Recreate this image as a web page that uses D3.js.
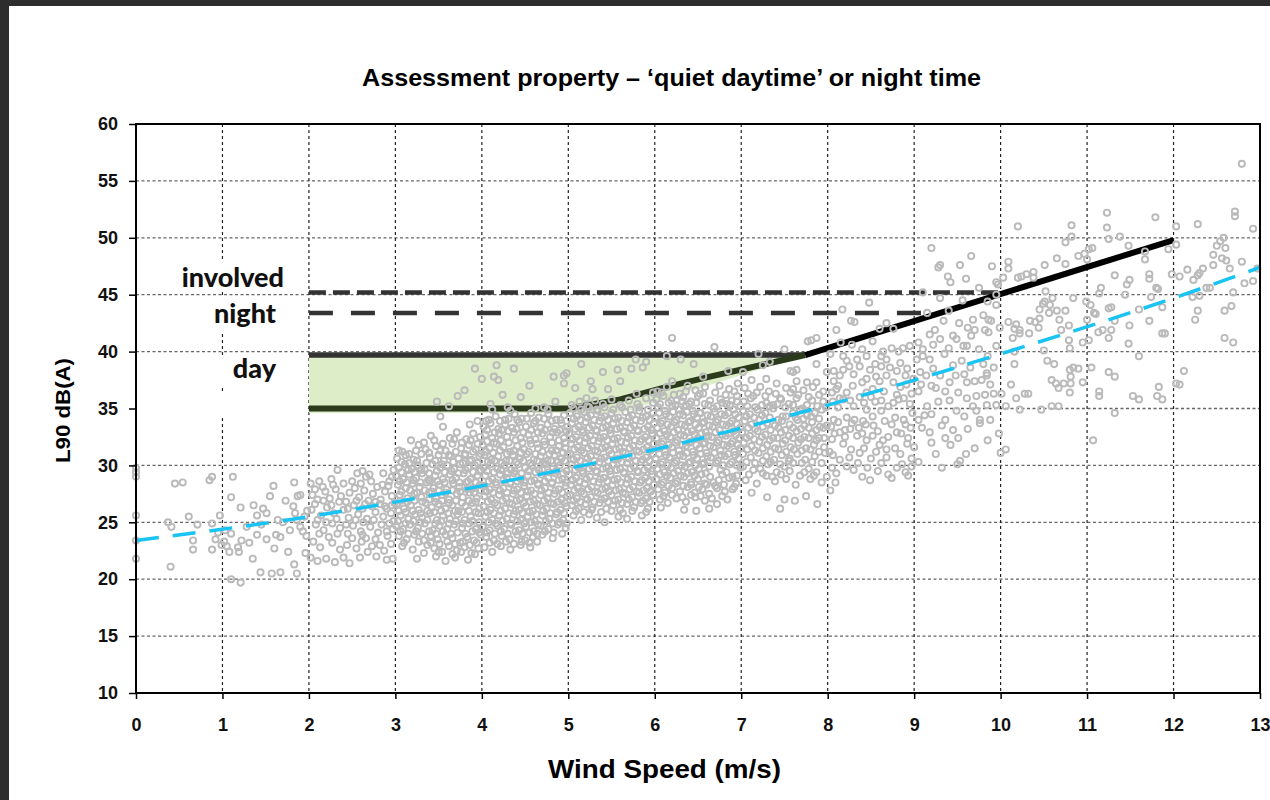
<!DOCTYPE html>
<html>
<head>
<meta charset="utf-8">
<style>
    body { margin: 0; background: #2d2d2d; }
    svg { display: block; }
    .tick text { font-family: "Liberation Sans", Arial, sans-serif; font-weight: bold; font-size: 18px; fill: #111; }
    .axis .domain { display: none; }
    .axis .tick line { stroke: #000; stroke-width: 1.5px; }
</style>
</head>
<body>
<svg width="1270" height="800"></svg>
<script src="https://d3js.org/d3.v7.min.js"></script>
<script>

// ---- data ----
const xTicks = [0,1,2,3,4,5,6,7,8,9,10,11,12,13];
const yTicks = [10,15,20,25,30,35,40,45,50,55,60];

// limit lines (wind m/s, dB)
const involvedLine = [[2,45.2],[10,45.2]];
const nightLine = [[2,43.4],[9.09,43.4]];
const dayUpper = [[2,39.7],[7.74,39.7]];
const dayLower = [[2,35],[5,35],[5.6,35.8],[6.14,36.9],[6.64,37.8],[7.74,39.7]];
const riseLine = [[7.74,39.7],[12,49.8]];
const dayBand = [[2,39.7],[7.74,39.7],[5.6,34.6],[2,34.6]];
// background trend curve
const trend = [[0,23.4],[2,25.5],[4,28.2],[6,31.4],[8,35.3],[10,39.8],[12,44.7],[13,47.4]];

const labelNames = ["involved","night","day"];

// measured L90 points, by wind speed band
const pts0 = [[0,29.8],[0,29.4],[0,29.0],[0,25.6],[0,23.4],[0,21.8],[0.37,25.0],[0.41,24.6],[0.40,21.1],[0.45,28.4],[0.54,28.5],[0.61,25.5],[0.66,23.4],[0.66,22.6],[0.71,24.8],[0.85,28.7],[0.88,29.0],[0.88,24.9],[0.88,22.6],[0.97,25.6],[0.95,24.1],[0.92,23.5],[0.99,23.0]];
const pts1 = [[1.02,23.3],[1.05,22.9],[1.08,22.4],[1.03,24.3],[1.1,24.0],[1.1,27.2],[1.12,29.0],[1.1,20.0],[1.21,19.7],[1.21,26.3],[1.19,22.4],[1.18,22.8],[1.22,23.4],[1.31,23.2],[1.36,26.5],[1.4,23.9],[1.4,25.6],[1.44,20.6],[1.47,26.2],[1.51,25.8],[1.51,23.5],[1.55,27.3],[1.59,28.2],[1.57,20.5],[1.67,20.6],[1.62,23.9],[1.67,23.7],[1.76,22.4],[1.83,28.5],[1.83,21.3],[1.86,20.5],[1.87,27.3],[1.9,27.4],[1.82,26.4],[1.84,25.8],[1.86,25.2],[1.9,24.6],[1.93,24.2],[1.95,25.5],[1.98,26.0],[1.97,23.8],[1.7,25.0],[1.78,24.3],[1.64,25.2],[1.28,24.6],[1.45,24.8],[1.73,26.9],[1.96,22.3],[1.6,22.7],[1.35,21.8]];
const pts2 = [[2.02,28.4],[2.12,28.6],[2.26,28.8],[2.33,29.6],[2.56,29.3],[2.62,29.5],[2.66,29.0],[2.70,29.2],[2.86,29.3],[2.96,29.0],[2.93,28.6],[2.98,29.6],
[2.04,27.4],[2.1,27.0],[2.19,27.7],[2.24,27.1],[2.31,27.9],[2.37,27.3],[2.43,26.8],[2.47,27.6],[2.53,28.0],[2.58,27.2],[2.64,27.8],[2.69,26.9],[2.74,27.5],[2.79,28.1],[2.83,27.0],[2.88,27.7],[2.92,28.2],[2.96,27.3],[2.99,26.7],
[2.03,26.1],[2.14,25.6],[2.21,26.3],[2.29,25.8],[2.4,26.1],[2.46,25.4],[2.52,26.5],[2.57,25.7],[2.62,26.2],[2.67,25.3],[2.73,26.4],[2.77,25.9],[2.82,26.6],[2.86,25.5],[2.9,26.2],[2.95,25.8],[2.98,25.1],
[2.08,24.8],[2.17,24.3],[2.27,24.9],[2.36,24.5],[2.45,24.0],[2.51,24.7],[2.6,24.2],[2.66,23.6],[2.71,24.6],[2.8,24.1],[2.84,24.8],[2.91,23.8],[2.97,24.4],
[2.05,23.3],[2.13,22.8],[2.27,23.2],[2.36,22.6],[2.44,23.0],[2.55,22.7],[2.61,23.3],[2.73,22.9],[2.87,22.5],[2.95,23.1],
[2.02,21.9],[2.1,21.6],[2.2,21.8],[2.3,21.5],[2.4,21.9],[2.47,21.4],[2.78,22.0],[2.9,21.7],[2.97,21.8]];
const pts2b = [[2.07,27.9],[2.16,28.1],[2.28,28.3],[2.4,28.4],[2.5,28.6],[2.6,28.4],[2.72,28.6],[2.85,28.3],[2.07,26.6],[2.17,26.9],[2.26,26.5],[2.35,26.8],[2.45,26.2],[2.55,26.9],[2.65,26.6],[2.77,26.8],[2.88,26.4],[2.96,26.5],[2.1,25.2],[2.2,25.0],[2.32,25.3],[2.43,24.8],[2.54,25.2],[2.63,25.0],[2.75,25.2],[2.93,24.9],[2.12,24.0],[2.23,23.7],[2.33,24.0],[2.5,23.6],[2.62,23.9],[2.77,23.5],[2.9,24.2],[2.59,21.9],[2.68,22.4],[2.82,23.0]];
const pts3 = [[3.52,34.3],[3.55,33.4],[3.86,33.6],[3.95,33.9],[3.48,35.6],[3.62,35.2],[3.72,36.1],[3.8,36.6],[3.92,38.5],
[3.18,32.2],[3.41,32.6],[3.63,32.4],[3.71,32.9],[3.82,32.3],[3.9,32.8],[3.98,32.5],
[3.08,31.2],[3.27,31.8],[3.35,31.4],[3.47,31.7],[3.58,31.3],[3.66,31.9],[3.76,31.5],[3.85,31.8],[3.93,31.4],
[3.02,30.6],[3.12,30.9],[3.21,30.5],[3.3,31.0],[3.4,30.7],[3.5,30.9],[3.56,30.4],[3.64,30.8],[3.73,30.6],[3.81,31.0],[3.88,30.5],[3.97,30.8],
[3.04,29.8],[3.11,30.1],[3.19,29.7],[3.26,30.0],[3.34,29.6],[3.43,30.1],[3.52,29.8],[3.6,30.0],[3.68,29.7],[3.75,30.1],[3.84,29.8],[3.92,30.0],[3.99,29.6],
[3.01,29.1],[3.09,28.8],[3.16,29.2],[3.24,28.9],[3.31,29.3],[3.38,28.7],[3.46,29.1],[3.55,28.8],[3.63,29.2],[3.7,28.9],[3.79,29.3],[3.87,28.8],[3.95,29.1],
[3.03,28.3],[3.12,28.0],[3.2,28.4],[3.28,28.1],[3.36,28.5],[3.44,28.0],[3.51,28.3],[3.59,27.9],[3.67,28.4],[3.74,28.1],[3.82,28.5],[3.9,28.0],[3.98,28.3],
[3.05,27.4],[3.14,27.1],[3.22,27.5],[3.3,27.2],[3.39,27.6],[3.47,27.1],[3.54,27.4],[3.62,27.0],[3.71,27.5],[3.78,27.2],[3.86,27.6],[3.94,27.1],
[3.02,26.6],[3.1,26.2],[3.18,26.5],[3.27,26.1],[3.35,26.7],[3.42,26.3],[3.5,26.6],[3.58,26.2],[3.66,26.5],[3.73,26.0],[3.81,26.4],[3.89,26.7],[3.97,26.2],
[3.06,25.6],[3.15,25.3],[3.23,25.7],[3.31,25.4],[3.4,25.8],[3.48,25.2],[3.55,25.6],[3.63,25.3],[3.72,25.7],[3.8,25.2],[3.87,25.5],[3.96,25.8],
[3.01,24.7],[3.09,24.4],[3.17,24.8],[3.26,24.5],[3.34,24.9],[3.43,24.3],[3.51,24.7],[3.6,24.4],[3.68,24.8],[3.77,24.5],[3.85,24.9],[3.93,24.4],
[3.04,23.8],[3.13,23.5],[3.22,23.9],[3.33,23.4],[3.41,23.8],[3.49,23.5],[3.58,23.9],[3.66,23.6],[3.75,23.2],[3.83,23.7],[3.91,23.4],[3.99,23.9],
[3.08,22.9],[3.2,22.6],[3.37,23.0],[3.45,22.7],[3.54,22.4],[3.62,22.9],[3.71,22.5],[3.8,22.8],[3.88,22.3],[3.96,22.7],
[3.25,21.8],[3.47,22.0],[3.58,21.6],[3.69,21.9],[3.84,21.7]];
const pts3b = [[3.33,32.0],[3.45,32.2],[3.55,31.9],[3.68,32.3],[3.77,32.0],[3.87,32.2],[3.95,31.9],
[3.04,31.3],[3.16,31.0],[3.24,31.3],[3.39,31.1],[3.52,31.3],[3.62,30.9],[3.7,31.2],[3.8,30.9],[3.9,31.2],[3.99,31.0],
[3.07,30.3],[3.16,30.2],[3.25,30.4],[3.36,30.2],[3.46,30.4],[3.54,30.1],[3.67,30.3],[3.78,30.2],[3.86,30.4],[3.95,30.2],
[3.07,29.4],[3.15,29.6],[3.22,29.4],[3.3,29.6],[3.39,29.3],[3.48,29.5],[3.57,29.4],[3.65,29.5],[3.73,29.3],[3.81,29.6],[3.9,29.4],[3.97,29.5],
[3.05,28.6],[3.13,28.5],[3.21,28.7],[3.29,28.5],[3.4,28.6],[3.49,28.6],[3.57,28.5],[3.66,28.7],[3.74,28.5],[3.84,28.6],[3.93,28.5],
[3.07,27.7],[3.17,27.8],[3.25,27.6],[3.34,27.8],[3.42,27.7],[3.5,27.8],[3.58,27.6],[3.66,27.8],[3.75,27.7],[3.83,27.9],[3.91,27.6],[3.99,27.8],
[3.06,26.9],[3.14,26.8],[3.22,26.9],[3.31,26.8],[3.39,27.0],[3.46,26.8],[3.54,26.9],[3.62,26.7],[3.7,26.9],[3.77,26.7],[3.85,26.9],[3.93,26.8],
[3.04,26.0],[3.12,25.9],[3.2,26.0],[3.29,25.8],[3.37,26.0],[3.45,25.9],[3.53,26.0],[3.61,25.8],[3.69,26.0],[3.77,25.9],[3.85,26.0],[3.93,25.9],
[3.03,25.1],[3.12,24.9],[3.21,25.1],[3.29,25.0],[3.37,25.2],[3.46,24.9],[3.53,25.1],[3.62,24.9],[3.7,25.1],[3.78,24.9],[3.89,25.1],[3.97,25.0],
[3.06,24.2],[3.15,24.0],[3.24,24.2],[3.31,24.0],[3.39,24.2],[3.47,24.0],[3.55,24.2],[3.64,24.0],[3.72,24.1],[3.81,24.0],[3.89,24.2],[3.97,24.1],
[3.1,23.2],[3.27,23.3],[3.41,23.2],[3.51,23.1],[3.6,23.3],[3.69,23.1],[3.78,23.3],[3.86,23.0],[3.94,23.2],
[3.33,22.3],[3.5,22.4],[3.66,22.2],[3.76,22.4],[3.92,22.2]];
const pts4 = [[4.05,33.9],[4.16,34.3],[4.27,34.0],[4.38,34.5],[4.46,34.1],[4.57,34.6],[4.66,34.2],[4.77,34.5],[4.86,34.0],[4.95,34.4],
[4.02,33.4],[4.1,33.7],[4.19,33.2],[4.27,33.6],[4.35,33.3],[4.43,33.8],[4.51,33.4],[4.6,33.7],[4.68,33.3],[4.76,33.6],[4.84,33.2],[4.92,33.7],[4.99,33.4],
[4.04,32.7],[4.12,32.4],[4.2,32.8],[4.29,32.5],[4.37,32.9],[4.45,32.4],[4.54,32.7],[4.62,32.3],[4.7,32.8],[4.79,32.5],[4.87,32.9],[4.95,32.4],
[4.01,31.8],[4.09,31.5],[4.17,31.9],[4.25,31.6],[4.33,31.2],[4.41,31.7],[4.49,31.4],[4.57,31.9],[4.65,31.5],[4.73,31.8],[4.81,31.3],[4.89,31.7],[4.97,31.5],
[4.03,30.9],[4.11,30.5],[4.19,30.8],[4.28,30.4],[4.36,30.9],[4.44,30.6],[4.52,31.0],[4.6,30.5],[4.68,30.8],[4.76,30.4],[4.84,30.9],[4.92,30.6],[4.99,30.9],
[4.02,29.8],[4.1,30.1],[4.18,29.7],[4.26,30.0],[4.34,29.6],[4.42,30.1],[4.5,29.8],[4.58,30.0],[4.66,29.6],[4.74,30.1],[4.82,29.7],[4.9,30.0],[4.98,29.5],
[4.04,29.1],[4.12,28.8],[4.21,29.2],[4.29,28.9],[4.37,29.3],[4.45,28.8],[4.53,29.1],[4.61,28.7],[4.69,29.2],[4.77,28.9],[4.85,29.3],[4.93,28.8],
[4.01,28.2],[4.09,27.9],[4.17,28.3],[4.25,28.0],[4.33,28.4],[4.41,27.9],[4.49,28.2],[4.57,27.8],[4.65,28.3],[4.73,28.0],[4.81,28.4],[4.89,27.9],[4.97,28.2],
[4.03,27.3],[4.11,27.0],[4.2,27.4],[4.28,27.1],[4.36,27.5],[4.44,27.0],[4.52,27.3],[4.6,26.9],[4.68,27.4],[4.76,27.1],[4.84,27.5],[4.92,27.0],[4.99,27.3],
[4.02,26.4],[4.1,26.1],[4.18,26.5],[4.27,26.2],[4.35,26.6],[4.43,26.1],[4.51,26.4],[4.59,26.0],[4.67,26.5],[4.75,26.2],[4.83,26.6],[4.91,26.1],[4.98,26.4],
[4.04,25.5],[4.12,25.2],[4.2,25.6],[4.29,25.3],[4.37,25.7],[4.45,25.2],[4.53,25.5],[4.61,25.1],[4.7,25.6],[4.78,25.3],[4.86,25.7],[4.94,25.2],
[4.01,24.6],[4.09,24.3],[4.18,24.7],[4.26,24.4],[4.34,24.8],[4.43,24.3],[4.51,24.6],[4.6,24.2],[4.68,24.7],[4.77,24.4],[4.88,24.8],[4.97,24.5],
[4.05,23.7],[4.14,23.4],[4.23,23.8],[4.32,23.5],[4.41,23.9],[4.5,23.4],[4.59,23.7],[4.7,23.9],[4.82,23.6],
[4.03,22.8],[4.12,22.4],[4.22,22.9],[4.33,22.6],[4.45,23.0],[4.56,22.8],
[4.17,38.8],[4.14,37.8],[4.19,37.5],[4.37,38.5],[4.1,35.4],[4.12,34.9],[4.3,35.1],[4.33,34.8],[4.0,37.6],[4.55,37.0],[4.62,35.0],[4.72,35.1],[4.76,34.9],[4.83,37.8],[4.95,37.9],[4.95,37.2],[4.98,38.1],[4.45,36.0],[4.85,35.6],[4.24,36.2]];
const pts4b = [[4.08,34.0],[4.21,33.9],[4.31,34.1],[4.41,34.0],[4.52,34.1],[4.62,33.9],[4.72,34.1],[4.81,33.9],[4.91,34.0],
[4.06,33.1],[4.15,32.9],[4.23,33.1],[4.31,33.0],[4.4,33.2],[4.48,32.9],[4.57,33.1],[4.65,32.9],[4.73,33.1],[4.82,32.9],[4.9,33.1],[4.98,33.0],
[4.06,32.1],[4.14,32.0],[4.22,32.2],[4.31,32.0],[4.39,32.2],[4.47,32.0],[4.56,32.2],[4.64,31.9],[4.72,32.1],[4.81,32.0],[4.89,32.2],[4.97,32.0],
[4.05,31.2],[4.13,31.1],[4.21,31.3],[4.29,31.0],[4.37,31.3],[4.45,31.1],[4.54,31.2],[4.62,31.0],[4.7,31.2],[4.78,31.0],[4.86,31.3],[4.94,31.1],
[4.07,30.3],[4.15,30.4],[4.23,30.2],[4.32,30.4],[4.4,30.3],[4.48,30.4],[4.56,30.2],[4.64,30.4],[4.72,30.2],[4.8,30.4],[4.88,30.3],[4.96,30.4],
[4.06,29.5],[4.14,29.4],[4.22,29.6],[4.3,29.3],[4.38,29.5],[4.46,29.3],[4.54,29.5],[4.62,29.4],[4.7,29.6],[4.78,29.4],[4.86,29.5],[4.94,29.3],
[4.08,28.6],[4.16,28.5],[4.25,28.7],[4.33,28.5],[4.41,28.6],[4.49,28.5],[4.57,28.6],[4.65,28.4],[4.73,28.6],[4.81,28.5],[4.89,28.7],[4.97,28.5],
[4.05,27.7],[4.13,27.6],[4.21,27.8],[4.29,27.6],[4.37,27.8],[4.45,27.6],[4.53,27.7],[4.61,27.5],[4.69,27.8],[4.77,27.6],[4.85,27.8],[4.93,27.6],
[4.07,26.8],[4.15,26.7],[4.24,26.9],[4.32,26.7],[4.4,26.9],[4.48,26.7],[4.56,26.8],[4.64,26.6],[4.72,26.9],[4.8,26.7],[4.88,26.8],[4.96,26.7],
[4.06,25.9],[4.14,25.8],[4.22,26.0],[4.31,25.8],[4.39,26.0],[4.47,25.8],[4.55,25.9],[4.63,25.7],[4.71,26.0],[4.79,25.8],[4.87,25.9],[4.95,25.8],
[4.08,25.0],[4.16,24.9],[4.24,25.1],[4.33,24.9],[4.41,25.1],[4.49,24.9],[4.57,25.0],[4.65,24.8],[4.74,25.1],[4.82,24.9],[4.9,25.0],[4.98,24.9],
[4.06,24.1],[4.15,24.0],[4.22,24.2],[4.3,24.0],[4.39,24.2],[4.47,24.0],[4.55,24.1],[4.64,24.0],[4.73,24.2],[4.83,24.1],[4.93,24.0],
[4.09,23.2],[4.18,23.1],[4.28,23.3],[4.37,23.1],[4.46,23.3],[4.55,23.2],[4.64,23.3]];
const pts5 = [[5.04,35.3],[5.13,35.6],[5.22,35.2],[5.31,35.7],[5.4,35.4],[5.5,35.8],[5.6,35.3],[5.7,35.7],[5.8,35.4],[5.9,35.9],[5.98,35.5],
[5.02,34.6],[5.1,34.3],[5.18,34.7],[5.26,34.4],[5.34,34.8],[5.42,34.3],[5.5,34.6],[5.58,34.2],[5.66,34.7],[5.74,34.4],[5.82,34.8],[5.9,34.3],[5.98,34.6],
[5.04,33.7],[5.12,33.4],[5.2,33.8],[5.28,33.5],[5.36,33.9],[5.44,33.4],[5.52,33.7],[5.6,33.3],[5.68,33.8],[5.76,33.5],[5.84,33.9],[5.92,33.4],[5.99,33.7],
[5.01,32.8],[5.09,32.5],[5.17,32.9],[5.25,32.6],[5.33,33.0],[5.41,32.5],[5.49,32.8],[5.57,32.4],[5.65,32.9],[5.73,32.6],[5.81,33.0],[5.89,32.5],[5.97,32.8],
[5.03,31.9],[5.11,31.6],[5.19,32.0],[5.27,31.7],[5.35,32.1],[5.43,31.6],[5.51,31.9],[5.59,31.5],[5.67,32.0],[5.75,31.7],[5.83,32.1],[5.91,31.6],[5.99,31.9],
[5.02,31.0],[5.1,30.7],[5.18,31.1],[5.26,30.8],[5.34,31.2],[5.42,30.7],[5.5,31.0],[5.58,30.6],[5.66,31.1],[5.74,30.8],[5.82,31.2],[5.9,30.7],[5.98,31.0],
[5.04,30.1],[5.12,29.8],[5.2,30.2],[5.28,29.9],[5.36,30.3],[5.44,29.8],[5.52,30.1],[5.6,29.7],[5.68,30.2],[5.76,29.9],[5.84,30.3],[5.92,29.8],[5.99,30.1],
[5.01,29.2],[5.09,28.9],[5.17,29.3],[5.25,29.0],[5.33,29.4],[5.41,28.9],[5.49,29.2],[5.57,28.8],[5.65,29.3],[5.73,29.0],[5.81,29.4],[5.89,28.9],[5.97,29.2],
[5.03,28.3],[5.11,28.0],[5.19,28.4],[5.27,28.1],[5.35,28.5],[5.43,28.0],[5.51,28.3],[5.59,27.9],[5.67,28.4],[5.75,28.1],[5.83,28.5],[5.91,28.0],[5.99,28.3],
[5.02,27.4],[5.1,27.1],[5.18,27.5],[5.26,27.2],[5.34,27.6],[5.42,27.1],[5.5,27.4],[5.58,27.0],[5.66,27.5],[5.74,27.2],[5.82,27.6],[5.9,27.1],[5.98,27.4],
[5.04,26.5],[5.12,26.2],[5.2,26.6],[5.28,26.3],[5.36,26.7],[5.44,26.2],[5.52,26.5],[5.6,26.1],[5.68,26.6],[5.76,26.3],[5.84,26.7],[5.92,26.2],
[5.06,25.6],[5.15,25.2],[5.24,25.7],[5.33,25.4],[5.42,25.0],[5.58,25.5],[5.68,25.3],[5.85,25.6],
[5.21,35.9],[5.26,37.4],[5.28,36.7],[5.57,38.4],[5.6,37.4],[5.46,36.7],[5.73,38.5],[5.86,38.6],[5.9,39.1],[5.78,39.3],[5.79,36.3],[5.98,36.4],[5.08,36.8],[5.4,38.2],[5.15,38.9]];
const pts5b = [[5.06,35.0],[5.15,34.9],[5.24,35.1],[5.33,34.9],[5.42,35.1],[5.52,34.9],[5.62,35.1],[5.72,34.9],[5.82,35.1],[5.92,34.9],
[5.06,34.1],[5.14,34.0],[5.22,34.2],[5.3,34.0],[5.38,34.2],[5.46,34.0],[5.54,34.1],[5.62,33.9],[5.7,34.2],[5.78,34.0],[5.86,34.2],[5.94,34.0],
[5.08,33.2],[5.16,33.1],[5.24,33.3],[5.32,33.1],[5.4,33.3],[5.48,33.1],[5.56,33.2],[5.64,33.0],[5.72,33.3],[5.8,33.1],[5.88,33.2],[5.96,33.1],
[5.05,32.3],[5.13,32.2],[5.21,32.4],[5.29,32.2],[5.37,32.4],[5.45,32.2],[5.53,32.3],[5.61,32.1],[5.69,32.4],[5.77,32.2],[5.85,32.3],[5.93,32.2],
[5.07,31.4],[5.15,31.3],[5.23,31.5],[5.31,31.3],[5.39,31.5],[5.47,31.3],[5.55,31.4],[5.63,31.2],[5.71,31.5],[5.79,31.3],[5.87,31.4],[5.95,31.3],
[5.06,30.5],[5.14,30.4],[5.22,30.6],[5.3,30.4],[5.38,30.6],[5.46,30.4],[5.54,30.5],[5.62,30.3],[5.7,30.6],[5.78,30.4],[5.86,30.5],[5.94,30.4],
[5.08,29.6],[5.16,29.5],[5.24,29.7],[5.32,29.5],[5.4,29.7],[5.48,29.5],[5.56,29.6],[5.64,29.4],[5.72,29.7],[5.8,29.5],[5.88,29.6],[5.96,29.5],
[5.05,28.7],[5.13,28.6],[5.21,28.8],[5.29,28.6],[5.37,28.8],[5.45,28.6],[5.53,28.7],[5.61,28.5],[5.69,28.8],[5.77,28.6],[5.85,28.7],[5.93,28.6],
[5.07,27.8],[5.15,27.7],[5.23,27.9],[5.31,27.7],[5.39,27.9],[5.47,27.7],[5.55,27.8],[5.63,27.6],[5.71,27.9],[5.79,27.7],[5.87,27.8],[5.95,27.7],
[5.06,26.9],[5.14,26.8],[5.22,27.0],[5.3,26.8],[5.38,27.0],[5.46,26.8],[5.54,26.9],[5.62,26.7],[5.7,27.0],[5.78,26.8],[5.86,26.9],[5.94,26.8],
[5.09,26.0],[5.18,25.9],[5.27,26.1],[5.38,25.9],[5.5,26.0],[5.63,25.8],[5.74,26.0],[5.9,25.9]];
const pts6 = [[6.03,36.5],[6.14,36.9],[6.29,36.3],[6.38,37.0],[6.47,36.6],[6.56,36.3],[6.58,36.9],[6.75,37.0],[6.86,36.7],[6.96,37.2],
[6.02,35.8],[6.1,36.1],[6.19,35.7],[6.25,35.7],[6.33,36.0],[6.42,35.6],[6.5,36.1],[6.64,35.7],[6.68,35.0],[6.76,35.8],[6.89,35.7],[6.95,36.1],
[6.04,35.1],[6.12,34.8],[6.2,35.2],[6.28,34.9],[6.36,35.3],[6.44,34.8],[6.52,34.6],[6.58,35.4],[6.72,35.2],[6.83,35.4],[6.91,34.9],[6.99,35.2],
[6.01,34.2],[6.09,33.9],[6.17,34.3],[6.25,34.0],[6.33,34.4],[6.41,33.9],[6.49,34.2],[6.57,33.8],[6.65,34.3],[6.73,34.0],[6.81,34.4],[6.89,33.9],[6.97,34.2],
[6.03,33.3],[6.11,33.0],[6.19,33.4],[6.27,33.1],[6.35,33.5],[6.43,33.0],[6.51,33.3],[6.59,32.9],[6.67,33.4],[6.75,33.1],[6.83,33.5],[6.91,33.0],[6.99,33.3],
[6.02,32.4],[6.1,32.1],[6.18,32.5],[6.26,32.2],[6.34,32.6],[6.42,32.1],[6.5,32.4],[6.58,32.0],[6.66,32.5],[6.74,32.2],[6.82,32.6],[6.9,32.1],[6.98,32.4],
[6.04,31.5],[6.12,31.2],[6.2,31.6],[6.28,31.3],[6.36,31.7],[6.44,31.2],[6.52,31.5],[6.6,31.1],[6.68,31.6],[6.76,31.3],[6.84,31.7],[6.92,31.2],[6.99,31.5],
[6.01,30.6],[6.09,30.3],[6.17,30.7],[6.25,30.4],[6.33,30.8],[6.41,30.3],[6.49,30.6],[6.57,30.2],[6.65,30.7],[6.73,30.4],[6.81,30.8],[6.89,30.3],[6.97,30.6],
[6.03,29.7],[6.11,29.4],[6.19,29.8],[6.27,29.5],[6.35,29.9],[6.43,29.4],[6.51,29.7],[6.59,29.3],[6.68,28.5],[6.76,29.6],[6.83,29.4],[6.95,29.1],[6.99,29.8],
[6.02,28.8],[6.1,28.5],[6.18,28.9],[6.26,28.6],[6.34,29.0],[6.42,28.5],[6.5,28.8],[6.58,28.4],[6.74,28.7],[6.86,28.9],[6.94,28.4],
[6.04,27.9],[6.12,27.6],[6.2,28.0],[6.29,27.7],[6.38,28.1],[6.46,27.6],[6.55,27.9],[6.63,27.5],[6.72,28.0],[6.81,27.7],[6.9,27.9],
[6.06,27.0],[6.15,26.7],[6.25,27.1],[6.36,26.8],[6.47,27.2],[6.58,26.9],[6.72,26.6],[6.84,27.0],
[6.34,26.1],[6.48,26.0],[6.63,26.2],[6.07,26.3],
[6.2,41.2],[6.14,39.6],[6.69,40.4],[6.2,37.4],[6.56,37.8],[6.85,38.3],[6.45,38.9],[6.3,39.3]];
const pts6b = [[6.08,36.4],[6.22,36.2],[6.36,36.5],[6.52,36.3],[6.7,36.4],[6.82,36.2],[6.92,36.5],
[6.06,35.4],[6.16,35.5],[6.24,35.3],[6.32,35.6],[6.4,35.4],[6.48,35.5],[6.62,35.3],[6.78,35.5],[6.87,35.3],[6.95,35.6],
[6.05,34.6],[6.13,34.5],[6.21,34.7],[6.29,34.5],[6.37,34.7],[6.45,34.5],[6.53,34.6],[6.61,34.4],[6.69,34.7],[6.77,34.5],[6.85,34.6],[6.93,34.5],
[6.07,33.7],[6.15,33.6],[6.23,33.8],[6.31,33.6],[6.39,33.8],[6.47,33.6],[6.55,33.7],[6.63,33.5],[6.71,33.8],[6.79,33.6],[6.87,33.7],[6.95,33.6],
[6.06,32.8],[6.14,32.7],[6.22,32.9],[6.3,32.7],[6.38,32.9],[6.46,32.7],[6.54,32.8],[6.62,32.6],[6.7,32.9],[6.78,32.7],[6.86,32.8],[6.94,32.7],
[6.08,31.9],[6.16,31.8],[6.24,32.0],[6.32,31.8],[6.4,32.0],[6.48,31.8],[6.56,31.9],[6.64,31.7],[6.72,32.0],[6.8,31.8],[6.88,31.9],[6.96,31.8],
[6.05,31.0],[6.13,30.9],[6.21,31.1],[6.29,30.9],[6.37,31.1],[6.45,30.9],[6.53,31.0],[6.61,30.8],[6.69,31.1],[6.77,30.9],[6.85,31.0],[6.93,30.9],
[6.07,30.1],[6.15,30.0],[6.23,30.2],[6.31,30.0],[6.39,30.2],[6.47,30.0],[6.55,30.1],[6.63,29.9],[6.71,30.2],[6.79,30.0],[6.87,30.1],[6.95,30.0],
[6.06,29.2],[6.14,29.1],[6.22,29.3],[6.3,29.1],[6.38,29.3],[6.46,29.1],[6.54,29.2],[6.64,29.0],[6.78,29.2],[6.9,29.0],
[6.08,28.3],[6.16,28.2],[6.24,28.4],[6.33,28.2],[6.42,28.3],[6.51,28.1],[6.6,28.3],[6.7,28.2],[6.8,28.3],[6.92,28.1],
[6.1,27.3],[6.2,27.4],[6.32,27.2],[6.42,27.4],[6.53,27.3],[6.66,27.1],[6.78,27.3]];
const pts7 = [[7.02,38.2],[7.25,38.8],[7.33,39.1],[7.29,37.6],[7.41,37.2],[7.57,38.3],[7.6,38.2],[7.64,38.4],[7.76,37.3],[7.87,37.3],[7.64,37.4],[7.87,38.9],[7.99,38.2],[7.12,37.5],
[7.04,36.8],[7.14,36.1],[7.22,36.9],[7.32,36.5],[7.45,35.9],[7.52,36.8],[7.57,36.4],[7.6,36.7],[7.72,36.6],[7.83,36.9],[7.95,36.5],
[7.03,35.6],[7.11,35.9],[7.24,35.3],[7.29,35.5],[7.37,35.3],[7.46,35.8],[7.55,35.4],[7.64,35.9],[7.76,35.3],[7.82,35.7],[7.95,35.6],
[7.02,34.8],[7.1,34.5],[7.19,34.9],[7.28,34.6],[7.37,35.0],[7.48,34.3],[7.6,34.6],[7.68,34.9],[7.76,34.4],[7.85,34.6],[7.93,34.9],
[7.04,33.9],[7.12,33.6],[7.21,34.0],[7.3,33.7],[7.39,33.5],[7.47,33.9],[7.56,33.6],[7.65,34.0],[7.73,33.5],[7.82,33.8],[7.91,33.4],[7.99,33.5],
[7.01,32.9],[7.1,32.6],[7.19,33.0],[7.28,32.7],[7.37,32.4],[7.46,32.9],[7.55,32.6],[7.64,33.0],[7.73,32.5],[7.82,32.8],[7.9,32.4],
[7.03,32.0],[7.12,31.7],[7.21,32.1],[7.3,31.8],[7.39,31.5],[7.48,31.9],[7.57,31.6],[7.66,32.0],[7.75,31.5],[7.84,31.8],[7.96,31.6],
[7.02,31.0],[7.11,30.7],[7.2,31.1],[7.29,30.8],[7.38,30.5],[7.47,30.9],[7.56,30.6],[7.65,31.0],[7.74,30.5],[7.85,30.8],[7.97,31.1],
[7.02,29.9],[7.14,29.6],[7.22,29.7],[7.31,30.1],[7.41,29.4],[7.5,29.9],[7.6,30.2],[7.68,29.1],[7.78,29.7],[7.87,29.4],[7.99,29.0],
[7.05,28.7],[7.18,28.4],[7.29,29.1],[7.39,28.6],[7.52,28.8],[7.63,28.3],[7.8,28.8],[7.93,28.5],
[7.12,27.6],[7.3,27.2],[7.5,27.0],[7.62,26.9],[7.75,27.3],[7.88,26.6],[7.45,26.2],
[7.77,40.9],[7.81,41.0],[7.87,41.2],[7.2,39.8],[7.5,40.2]];
const pts7b = [[7.08,36.3],[7.18,36.4],[7.28,36.1],[7.4,36.3],[7.66,36.2],[7.78,36.0],[7.9,36.2],
[7.07,35.2],[7.16,35.1],[7.33,35.2],[7.42,35.4],[7.51,35.1],[7.6,35.3],[7.71,35.0],[7.88,35.2],[7.98,35.1],
[7.06,34.3],[7.15,34.2],[7.24,34.4],[7.33,34.2],[7.43,34.0],[7.52,34.3],[7.63,34.2],[7.72,34.1],[7.81,34.3],[7.9,34.1],
[7.08,33.3],[7.16,33.2],[7.25,33.4],[7.34,33.1],[7.43,33.3],[7.51,33.1],[7.6,33.3],[7.69,33.2],[7.78,33.3],[7.87,33.1],[7.95,33.3],
[7.06,32.4],[7.15,32.3],[7.24,32.5],[7.33,32.2],[7.42,32.4],[7.51,32.2],[7.6,32.4],[7.69,32.3],[7.78,32.4],[7.87,32.2],[7.96,32.4],
[7.07,31.4],[7.16,31.3],[7.25,31.5],[7.34,31.2],[7.43,31.4],[7.52,31.2],[7.61,31.4],[7.7,31.3],[7.8,31.4],[7.9,31.2],
[7.06,30.3],[7.16,30.2],[7.25,30.4],[7.34,30.3],[7.45,30.1],[7.55,30.4],[7.7,30.2],[7.82,30.3],[7.93,30.2],
[7.09,29.2],[7.25,29.3],[7.36,29.0],[7.46,29.2],[7.56,29.5],[7.73,29.4],[7.84,29.1]];
const pts8 = [[8.48,44.3],[8.17,43.7],[8.27,42.7],[8.31,42.6],[8.68,42.5],[8.6,42.0],[8.76,42.0],[8.1,41.9],[8.95,40.5],[8.87,40.3],[8.64,40.0],[8.74,40.3],[8.68,39.3],[8.62,38.7],[8.84,39.0],[8.8,38.3],[8.45,39.6],[8.34,39.3],[8.37,38.7],[8.49,38.4],[8.45,37.6],[8.18,39.6],[8.22,39.2],[8.18,38.4],[8.07,38.3],[8.07,37.4],[8.14,37.9],[8.05,36.4],[8.1,36.7],[8.14,35.9],[8.22,36.4],[8.29,37.0],[8.37,36.0],[8.45,36.4],[8.52,36.7],[8.6,37.4],[8.68,37.9],[8.76,37.3],[8.84,36.9],[8.91,37.1],[8.99,37.6],[8.88,34.0],[8.74,33.6],[8.62,34.8],[8.52,34.3],[8.41,33.9],[8.31,34.0],[8.22,34.2],[8.07,34.0],[8.14,32.9],[8.05,32.3],[8.26,33.2],[8.34,32.6],[8.45,32.2],[8.27,31.4],[8.37,31.1],[8.14,30.5],[8.22,29.9],[8.09,28.5],[8.7,29.2],[8.74,28.9],[8.9,29.4],[8.93,29.1],[8.86,30.1],[8.68,30.7],
[8.55,35.6],[8.7,35.2],[8.82,35.8],[8.95,35.4],[8.3,35.2],[8.12,35.1],[8.58,33.0],[8.7,32.5],[8.85,32.8],[8.96,33.3],[8.6,31.8],[8.78,31.5],[8.92,31.9],[8.5,30.6],[8.35,30.2],[8.02,31.2],[8.18,31.9],[8.55,38.9],[8.92,38.5],[8.03,39.8],[8.28,40.6],[8.52,40.9],[8.4,29.0],[8.58,29.5],[8.05,29.8],[8.98,34.6],[8.45,34.9],[8.8,36.2],[8.65,36.5],[8.3,38.0],[8.03,27.8],[8.49,28.7]];
const pts8b = [[8.04,33.4],[8.12,33.8],[8.2,33.1],[8.28,33.7],[8.36,33.3],[8.44,33.6],[8.53,33.5],[8.66,33.9],[8.78,34.2],[8.9,33.6],
[8.06,35.6],[8.18,35.8],[8.26,35.7],[8.42,35.5],[8.5,36.0],[8.62,35.7],[8.76,35.5],[8.88,35.9],[8.97,36.3],
[8.08,32.8],[8.2,32.5],[8.4,32.8],[8.52,32.6],[8.64,32.2],[8.8,32.9],[8.93,32.4],
[8.06,30.9],[8.25,30.7],[8.42,31.5],[8.56,31.2],[8.68,31.4],[8.84,31.0],[8.97,30.6],
[8.1,29.3],[8.3,29.6],[8.46,29.8],[8.62,30.2],[8.8,29.8],[8.97,29.9],
[8.12,37.0],[8.4,37.3],[8.56,37.8],[8.72,38.6],[8.9,37.9],[8.25,38.7],[8.62,39.6],[8.82,40.0],[8.4,40.2],[8.15,40.8]];
const pts9 = [[9.2,49.1],[9.3,47.6],[9.28,47.4],[9.53,47.6],[9.66,48.4],[9.39,46.6],[9.42,46.1],[9.3,44.7],[9.56,44.5],[9.68,42.8],[9.7,41.9],[9.86,41.7],[9.66,41.4],[9.34,42.7],[9.24,41.9],[9.18,41.5],[9.3,41.1],[9.45,41.4],[9.49,41.1],[9.57,40.5],[9.61,40.5],[9.03,39.3],[9.1,39.6],[9.18,39.3],[9.07,38.2],[9.14,37.9],[9.22,38.5],[9.3,37.9],[9.41,37.3],[9.51,36.4],[9.61,37.3],[9.72,36.1],[9.84,37.9],[9.76,33.7],[9.51,32.4],[9.36,32.4],[9.18,32.9],[9.09,33.3],[9.0,31.6],[9.32,29.8],[9.5,30.1],[9.53,30.4],[9.36,34.0],[9.49,34.8],[9.72,34.8],[9.84,35.3],[9.61,35.9],[9.41,35.7],[9.95,46.1],[9.97,45.9],[9.95,45.0],[9.95,44.1],[9.86,42.8],[9.89,42.7],[9.82,41.9],[9.99,42.1],[9.8,38.9],[9.84,38.1],[9.78,37.5],[9.88,37.1],[9.92,36.3],[9.82,36.2],[9.76,34.0],[9.98,32.8],[9.95,35.3],
[9.05,36.5],[9.15,35.2],[9.25,36.8],[9.35,39.8],[9.45,38.8],[9.55,39.2],[9.65,38.6],[9.75,40.2],[9.85,39.6],[9.95,40.5],[9.12,34.4],[9.28,35.6],[9.62,33.2],[9.7,31.5],[9.25,31.0],[9.42,31.8],[9.05,40.8],[9.15,43.4],[9.4,43.6],[9.85,44.4],[9.75,45.6],[9.6,46.4],[9.9,47.5],[9.1,45.2]];
const pts9b = [[9.05,34.0],[9.2,34.5],[9.32,33.5],[9.45,33.1],[9.58,34.3],[9.68,35.2],[9.88,34.0],[9.08,37.1],[9.2,37.0],[9.36,36.5],[9.48,37.9],[9.58,38.0],[9.7,37.4],[9.92,38.6],[9.1,40.2],[9.22,40.6],[9.4,40.3],[9.52,42.5],[9.62,42.1],[9.8,43.2],[9.2,32.0],[9.6,31.0],[9.05,30.3],[9.85,32.2]];
const pts10 = [[10.2,51.0],[10.82,51.1],[10.82,50.1],[10.75,49.6],[10.65,48.2],[10.75,47.7],[10.9,48.4],[10.97,48.6],[10.09,47.9],[10.09,47.3],[10.03,46.5],[10.2,46.5],[10.24,46.6],[10.3,46.8],[10.38,47.0],[10.38,46.5],[10.51,47.6],[10.52,45.3],[10.51,44.4],[10.49,44.2],[10.57,44.1],[10.6,44.7],[10.65,43.6],[10.56,43.4],[10.45,43.7],[10.45,42.9],[10.84,44.7],[10.99,44.4],[10.95,40.8],[10.95,37.3],[10.9,38.5],[10.84,38.6],[10.81,37.8],[10.8,38.4],[10.81,37.2],[10.79,42.3],[10.79,41.0],[10.8,40.3],[10.75,43.6],[10.68,42.8],[10.7,41.9],[10.73,37.2],[10.8,36.4],[10.67,36.8],[10.64,37.2],[10.59,37.5],[10.62,38.9],[10.54,39.2],[10.5,40.1],[10.47,34.9],[10.59,35.2],[10.67,35.2],[10.33,41.6],[10.44,42.1],[10.4,42.6],[10.34,42.7],[10.32,36.3],[10.28,36.3],[10.18,35.9],[10.22,34.9],[10.16,42.0],[10.22,41.6],[10.14,41.2],[10.16,40.0],[10.16,38.9],[10.12,37.1],[10.06,35.2],[10.01,36.3],[10.06,31.4],[10.09,42.6],[10.18,42.4],[10.22,41.9],[10.0,31.1]];
const pts11 = [[11.79,51.8],[11.23,52.2],[11.23,50.9],[11.25,49.9],[11.38,50.1],[11.48,49.3],[11.0,48.1],[11.06,49.1],[11.02,49.0],[11.67,48.1],[11.67,48.8],[11.94,49.0],[11.04,44.1],[11.08,43.4],[11.1,43.3],[11.16,45.6],[11.14,45.1],[11.25,43.8],[11.32,46.7],[11.46,45.9],[11.44,45.0],[11.49,46.3],[11.72,46.8],[11.72,46.4],[11.8,45.6],[11.82,45.5],[11.74,44.8],[11.87,43.9],[11.72,42.7],[11.87,41.6],[11.49,42.3],[11.6,43.7],[11.98,46.8],[11.9,41.6],[11.83,36.9],[11.81,36.1],[11.87,35.8],[11.6,39.6],[11.53,36.1],[11.6,35.8],[11.32,34.6],[11.07,32.2],[11.48,40.7],[11.25,38.2],[11.32,37.8],[11.14,36.5],[11.14,36.1],[11.28,43.9],[11.32,42.7],[11.28,41.9],[11.25,41.2],[11.13,41.7],[11.18,41.9],[11.0,42.8],[11.02,41.0],[11.05,38.6]];
const pts12 = [[12.79,56.5],[12.71,52.3],[12.71,51.9],[12.92,50.8],[12.28,51.2],[12.03,51.0],[12.03,49.4],[12.07,46.6],[12.16,47.2],[12.23,46.3],[12.28,46.7],[12.3,46.9],[12.34,47.3],[12.22,44.8],[12.3,44.9],[12.38,45.6],[12.42,45.6],[12.46,48.5],[12.46,47.6],[12.5,49.3],[12.54,49.7],[12.58,50.0],[12.6,49.1],[12.56,48.2],[12.61,48.0],[12.65,47.3],[12.79,47.9],[12.82,46.0],[12.67,44.0],[12.59,43.6],[12.92,46.2],[12.97,47.3],[12.69,45.2],[12.59,41.2],[12.69,40.8],[12.28,43.6],[12.25,42.8],[12.07,37.1],[12.03,37.2],[12.12,38.3]];

const allPoints = [].concat(pts0, pts1, pts2, pts2b, pts3, pts3b, pts4, pts4b, pts5, pts5b, pts6, pts6b, pts7, pts7b, pts8, pts8b, pts9, pts9b, pts10, pts11, pts12);

// ---- layout ----
const svg = d3.select("svg");
const plotLeft = 136, plotRight = 1260, plotTop = 124, plotBottom = 693;
const fontSans = '"Liberation Sans", Arial, sans-serif';

svg.append("rect").attr("x", 9).attr("y", 6).attr("width", 1270).attr("height", 800).style("fill", "white");

const x = d3.scaleLinear().domain([0, 13]).range([plotLeft, plotRight]);
const y = d3.scaleLinear().domain([10, 60]).range([plotBottom, plotTop]);

// grid
svg.append("g").selectAll("line")
    .data(yTicks.filter(d => d > 10 && d < 60))
    .join("line")
    .attr("x1", plotLeft).attr("x2", plotRight)
    .attr("y1", d => y(d)).attr("y2", d => y(d))
    .style("stroke", "#666").style("stroke-width", 1.3).style("stroke-dasharray", "3,2.5");

svg.append("g").selectAll("line")
    .data(xTicks.filter(d => d > 0 && d < 13))
    .join("line")
    .attr("x1", d => x(d)).attr("x2", d => x(d))
    .attr("y1", plotTop).attr("y2", plotBottom)
    .style("stroke", "#222").style("stroke-width", 1.2).style("stroke-dasharray", "3,3");

// white boxes behind the labels
const boxes = [[175, 259, 125, 33], [205, 297, 95, 34], [180, 357, 120, 30], [137, 393, 171, 25]];
svg.append("g").selectAll("rect")
    .data(boxes)
    .join("rect")
    .attr("x", d => d[0]).attr("y", d => d[1]).attr("width", d => d[2]).attr("height", d => d[3])
    .style("fill", "white");

let line = d3.line().x(d => x(d[0])).y(d => y(d[1]));

// day band fill
svg.append("path")
    .attr("d", line(dayBand) + "Z")
    .style("fill", "#dcedc8");

svg.append("path").attr("d", line(involvedLine))
    .style("fill", "none").style("stroke", "#333").style("stroke-width", 4.5).style("stroke-dasharray", "17,7");
svg.append("path").attr("d", line(nightLine))
    .style("fill", "none").style("stroke", "#333").style("stroke-width", 4.5).style("stroke-dasharray", "24,18");
svg.append("path").attr("d", line(dayUpper))
    .style("fill", "none").style("stroke", "#333").style("stroke-width", 5.5);
svg.append("path").attr("d", line(dayLower))
    .style("fill", "none").style("stroke", "#2b3a1b").style("stroke-width", 6);
svg.append("path").attr("d", line(riseLine))
    .style("fill", "none").style("stroke", "#000").style("stroke-width", 6);

// points
svg.append("g").selectAll("circle")
    .data(allPoints)
    .join("circle")
    .attr("cx", d => x(d[0]))
    .attr("cy", d => y(d[1]))
    .attr("r", 3.1)
    .style("fill", "none")
    .style("stroke", "#bababa")
    .style("stroke-width", 1.9);

// trend curve
svg.append("clipPath").attr("id", "plotclip")
    .append("rect").attr("x", plotLeft).attr("y", plotTop).attr("width", plotRight - plotLeft).attr("height", plotBottom - plotTop);

svg.append("path")
    .attr("clip-path", "url(#plotclip)")
    .attr("d", d3.line().x(d => x(d[0])).y(d => y(d[1])).curve(d3.curveMonotoneX)(trend))
    .style("fill", "none").style("stroke", "#19c3f3").style("stroke-width", 3.5).style("stroke-dasharray", "23,14");

// frame
svg.append("rect")
    .attr("x", plotLeft).attr("y", plotTop).attr("width", plotRight - plotLeft).attr("height", plotBottom - plotTop)
    .style("fill", "none").style("stroke", "#000").style("stroke-width", 2);

// axes
svg.append("g")
    .attr("class", "axis")
    .attr("transform", `translate(${plotLeft},0)`)
    .call(d3.axisLeft(y).tickValues(yTicks).tickSize(7).tickPadding(11));

svg.append("g")
    .attr("class", "axis")
    .attr("transform", `translate(0,${plotBottom})`)
    .call(d3.axisBottom(x).tickValues(xTicks).tickSize(6).tickPadding(19));

// labels
const labelY = [287, 323, 378];
const labelRight = [284, 276, 276];
svg.append("g").selectAll("text")
    .data(labelNames)
    .join("text")
    .attr("x", (d, i) => labelRight[i])
    .attr("y", (d, i) => labelY[i])
    .attr("text-anchor", "end")
    .style("font-family", "Lato, 'Open Sans', sans-serif")
    .style("font-weight", "900")
    .style("font-size", "27px")
    .style("fill", "#111")
    .text(d => d);

// titles
svg.append("text")
    .attr("x", 362).attr("y", 86)
    .attr("textLength", 619).attr("lengthAdjust", "spacingAndGlyphs")
    .style("font-family", fontSans).style("font-weight", "bold").style("font-size", "24px")
    .text("Assessment property \u2013 \u2018quiet daytime\u2019 or night time");

svg.append("text")
    .attr("x", 548).attr("y", 778)
    .attr("textLength", 233).attr("lengthAdjust", "spacingAndGlyphs")
    .style("font-family", fontSans).style("font-weight", "bold").style("font-size", "26px")
    .text("Wind Speed (m/s)");

svg.append("text")
    .attr("transform", "translate(70,463) rotate(-90)")
    .attr("textLength", 105).attr("lengthAdjust", "spacingAndGlyphs")
    .style("font-family", fontSans).style("font-weight", "bold").style("font-size", "21px")
    .text("L90 dB(A)");

</script>
</body>
</html>
